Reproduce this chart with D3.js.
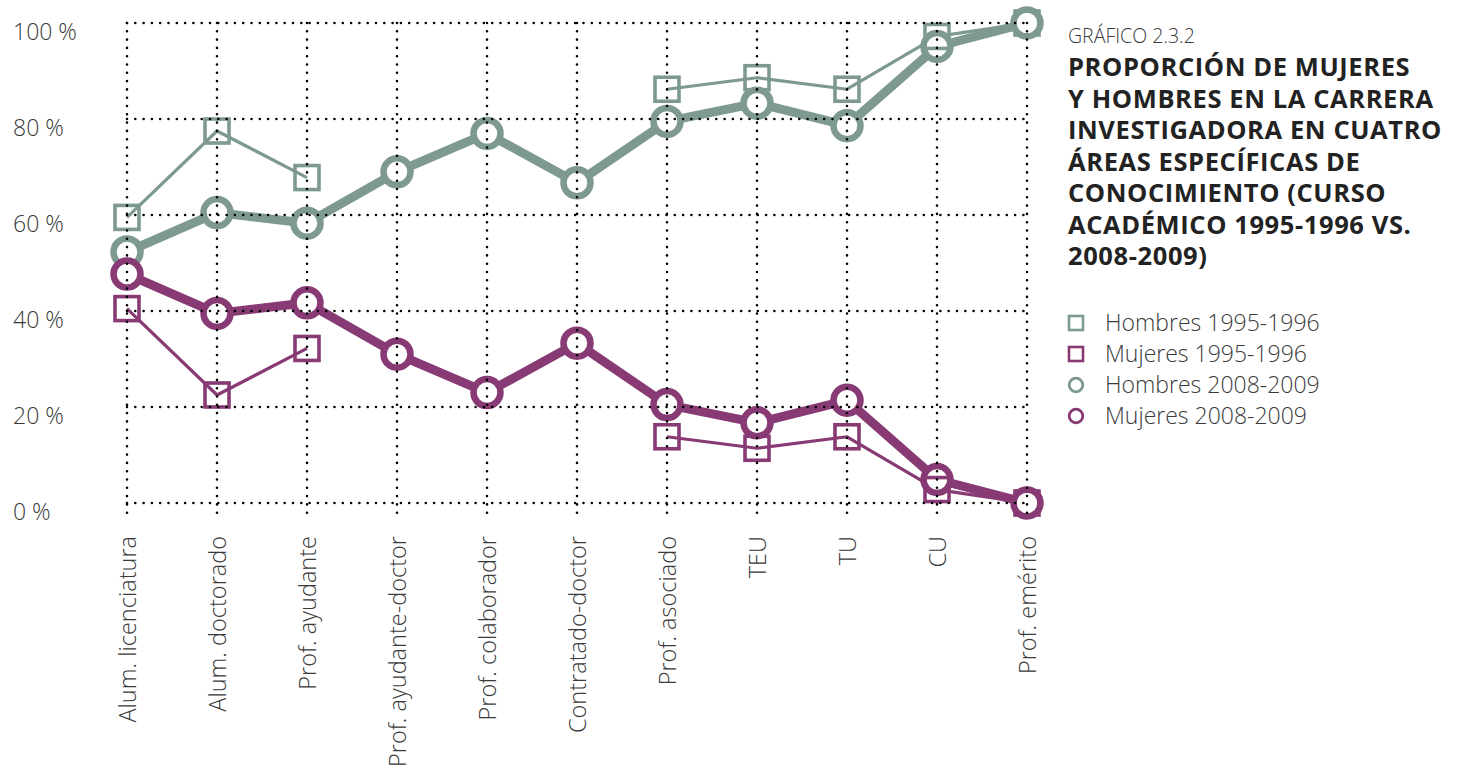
<!DOCTYPE html>
<html><head><meta charset="utf-8">
<script src="https://cdn.jsdelivr.net/npm/d3@7"></script>
<style>
body{margin:0;background:#fff;}
svg{display:block;}
text{font-family:"Open Sans",sans-serif;}
</style></head>
<body><svg id="c" width="1468" height="771"></svg>
<script>
const categories = ["Alum. licenciatura","Alum. doctorado","Prof. ayudante","Prof. ayudante-doctor","Prof. colaborador","Contratado-doctor","Prof. asociado","TEU","TU","CU","Prof. emérito"];
const hombres1995 = [59.5, 77.5, 67.8, null, null, null, 86.2, 88.6, 86.2, 97.2, 100];
const mujeres1995 = [40.5, 22.5, 32.2, null, null, null, 13.8, 11.4, 13.8, 2.8, 0];
const hombres2008 = [52.3, 60.5, 58.3, 69.0, 77.0, 66.7, 79.5, 83.3, 78.6, 95.1, 100];
const mujeres2008 = [47.7, 39.5, 41.7, 31.0, 23.0, 33.3, 20.5, 16.7, 21.4, 4.9, 0];
const yTicks = [0, 20, 40, 60, 80, 100];
const titleSmall = "GRÁFICO 2.3.2";
const titleLines = ["PROPORCIÓN DE MUJERES","Y HOMBRES EN LA CARRERA","INVESTIGADORA EN CUATRO","ÁREAS ESPECÍFICAS DE","CONOCIMIENTO (CURSO","ACADÉMICO 1995-1996 VS.","2008-2009)"];
const legendLabels = ["Hombres 1995-1996","Mujeres 1995-1996","Hombres 2008-2009","Mujeres 2008-2009"];

const teal = "#7e9a8e", purple = "#883a74", txt = "#3a3a3a";
const svg = d3.select("#c");
const x = d3.scalePoint().domain(categories).range([127, 1027]);
const y = d3.scaleLinear().domain([0, 100]).range([503, 23]);

const series = [
  {vals: hombres2008, color: teal, kind: "circle"},
  {vals: mujeres2008, color: purple, kind: "circle"},
  {vals: hombres1995, color: teal, kind: "square"},
  {vals: mujeres1995, color: purple, kind: "square"}
];

const line = d3.line().defined(d => d.v != null).x(d => x(d.c)).y(d => y(d.v));
const gData = svg.append("g");
series.forEach(s => {
  const pts = categories.map((c, i) => ({c, v: s.vals[i]}));
  gData.append("path").datum(pts).attr("d", line).attr("fill", "none")
    .attr("stroke", s.color).attr("stroke-width", s.kind === "circle" ? 9 : 3.2)
    .attr("stroke-linejoin", "round");
});
series.forEach(s => {
  const pts = categories.map((c, i) => ({c, v: s.vals[i]})).filter(d => d.v != null);
  if (s.kind === "circle") {
    gData.selectAll(null).data(pts).enter().append("circle")
      .attr("cx", d => x(d.c)).attr("cy", d => y(d.v)).attr("r", 13.5)
      .attr("fill", "#fff").attr("stroke", s.color).attr("stroke-width", 6.5);
  } else {
    gData.selectAll(null).data(pts).enter().append("rect")
      .attr("x", d => x(d.c) - 12).attr("y", d => y(d.v) - 12)
      .attr("width", 24).attr("height", 24)
      .attr("fill", "none").attr("stroke", s.color).attr("stroke-width", 3.6);
  }
});

// grid on top
const grid = svg.append("g").attr("stroke", "#000").attr("stroke-width", 2.6)
  .attr("stroke-dasharray", "0,8.3").attr("stroke-linecap", "round");
grid.selectAll(null).data(yTicks).enter().append("line")
  .attr("x1", 127).attr("x2", 1031).attr("y1", d => y(d)).attr("y2", d => y(d));
grid.selectAll(null).data(categories).enter().append("line")
  .attr("x1", d => x(d)).attr("x2", d => x(d)).attr("y1", y(100)).attr("y2", 520);

// y labels
svg.append("g").selectAll(null).data(yTicks).enter().append("text")
  .attr("x", 13).attr("y", d => y(d) + 17).attr("font-size", 23).attr("font-weight", 300)
  .attr("fill", txt).text(d => d + " %");

// x labels
svg.append("g").selectAll(null).data(categories).enter().append("text")
  .attr("transform", d => `translate(${x(d) + 8.5},536) rotate(-90)`)
  .attr("text-anchor", "end").attr("font-size", 23.5).attr("font-weight", 300)
  .attr("fill", txt).text(d => d);

// title
svg.append("text").attr("x", 1068).attr("y", 43).attr("font-size", 19.5).attr("font-weight", 300)
  .attr("fill", txt).text(titleSmall);
svg.append("g").selectAll(null).data(titleLines).enter().append("text")
  .attr("x", 1068).attr("y", (d, i) => 76 + i * 31.5).attr("font-size", 25.5).attr("font-weight", 700)
  .attr("letter-spacing", 0.6).attr("fill", "#222").text(d => d);

// legend
const lg = svg.append("g");
const legendKinds = [{c: teal, k: "square"}, {c: purple, k: "square"}, {c: teal, k: "circle"}, {c: purple, k: "circle"}];
legendLabels.forEach((l, i) => {
  const cy = 323 + i * 31;
  const k = legendKinds[i];
  if (k.k === "square") {
    lg.append("rect").attr("x", 1069).attr("y", cy - 7).attr("width", 14).attr("height", 14)
      .attr("fill", "none").attr("stroke", k.c).attr("stroke-width", 2.6);
  } else {
    lg.append("circle").attr("cx", 1076).attr("cy", cy).attr("r", 6.8)
      .attr("fill", "none").attr("stroke", k.c).attr("stroke-width", 2.8);
  }
  lg.append("text").attr("x", 1105).attr("y", cy + 8).attr("font-size", 23).attr("font-weight", 300)
    .attr("fill", txt).text(l);
});
</script></body></html>
